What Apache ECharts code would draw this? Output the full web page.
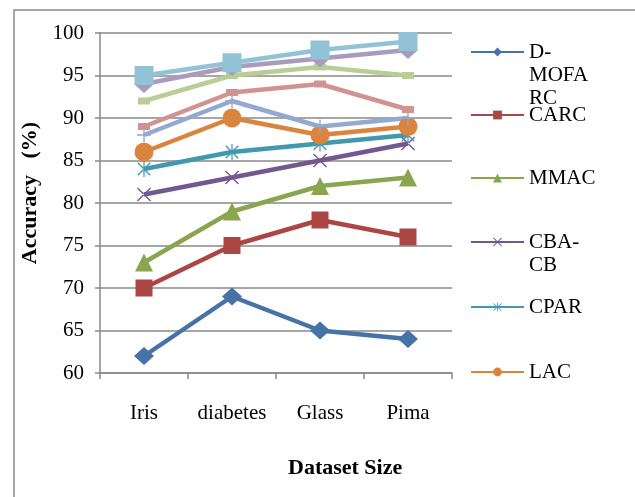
<!DOCTYPE html>
<html>
<head>
<meta charset="utf-8">
<script src="https://cdn.jsdelivr.net/npm/echarts@6/dist/echarts.min.js"></script>
<style>html,body{margin:0;padding:0;background:#fff;}#c{width:635px;height:497px;}</style>
</head>
<body>
<div id="c"></div>
<script>
var categories = ['Iris', 'diabetes', 'Glass', 'Pima'];
var yTicks = [60, 65, 70, 75, 80, 85, 90, 95, 100];
var dMofarc = [62, 69, 65, 64];
var carc = [70, 75, 78, 76];
var mmac = [73, 79, 82, 83];
var cbaCb = [81, 83, 85, 87];
var cpar = [84, 86, 87, 88];
var lac = [86, 90, 88, 89];
var series7 = [88, 92, 89, 90];
var series8 = [89, 93, 94, 91];
var series9 = [92, 95, 96, 95];
var series10 = [94, 96, 97, 98];
var series11 = [95, 96.5, 98, 99];

var FONT = '"Liberation Serif", "Times New Roman", serif';
var GRID_COLOR = '#898989';

var PLUS = 'path://M9,0H11V9H20V11H11V20H9V11H0V9H9Z';
var XMARK = 'path://M0,1.4L1.4,0L20,18.6L18.6,20ZM20,1.4L18.6,0L0,18.6L1.4,20Z';
var STAR = 'path://M0,1.4L1.4,0L20,18.6L18.6,20ZM20,1.4L18.6,0L0,18.6L1.4,20ZM9.1,-2H10.9V22H9.1Z';

function mk(name, data, color, symbol, size) {
  return {
    name: name, type: 'line', data: data,
    symbol: symbol, symbolSize: size, symbolKeepAspect: true,
    showSymbol: true,
    lineStyle: { width: 4.5, color: color },
    itemStyle: { color: color },
    emphasis: { disabled: true },
    animation: false
  };
}

var seriesList = [
  mk('D-MOFARC', dMofarc, '#4572A7', 'diamond', [20, 18]),
  mk('CARC', carc, '#AA4643', 'rect', 17),
  mk('MMAC', mmac, '#89A54E', 'triangle', 18),
  mk('CBA-CB', cbaCb, '#71588F', XMARK, 14),
  mk('CPAR', cpar, '#4198AF', STAR, 16),
  mk('LAC', lac, '#DB843D', 'circle', 19),
  mk('Series 7', series7, '#93A9CF', PLUS, 14),
  mk('Series 8', series8, '#D19392', 'rect', [12, 7]),
  mk('Series 9', series9, '#B9CD96', 'rect', [12, 7]),
  mk('Series 10', series10, '#A99BBD', 'diamond', [20, 18]),
  mk('Series 11', series11, '#91C3D5', 'rect', 19)
];

var legendItems = [
  { name: 'D-MOFARC', text: '\n\nD-\nMOFA\nRC', center: 52, lines: 5 },
  { name: 'CARC', text: 'CARC', center: 115, lines: 1 },
  { name: 'MMAC', text: 'MMAC', center: 178, lines: 1 },
  { name: 'CBA-CB', text: '\nCBA-\nCB', center: 242, lines: 3 },
  { name: 'CPAR', text: 'CPAR', center: 307, lines: 1 },
  { name: 'LAC', text: 'LAC', center: 372, lines: 1 }
];
var LH = 23;
var legends = legendItems.map(function (it) {
  return {
    orient: 'vertical', left: 470, top: it.center - it.lines * LH / 2,
    padding: 0, itemWidth: 53, itemHeight: 11,
    data: [it.name], selectedMode: false,
    formatter: function () { return it.text; },
    textStyle: { fontFamily: FONT, fontSize: 21, lineHeight: LH, color: '#000' }
  };
});

var chart = echarts.init(document.getElementById('c'), null, { renderer: 'canvas' });
chart.setOption({
  animation: false,
  backgroundColor: '#fff',
  title: {
    text: 'Dataset Size', left: 288, top: 457,
    textStyle: { fontFamily: FONT, fontSize: 22, fontWeight: 'bold', color: '#000' },
    padding: 0
  },
  graphic: [{
    type: 'rect', silent: true, z: -1,
    shape: { x: 14, y: 10, width: 800, height: 600 },
    style: { fill: 'none', stroke: GRID_COLOR, lineWidth: 1.5 }
  }],
  legend: legends,
  grid: { left: 100, top: 33, right: 183, bottom: 124, containLabel: false },
  xAxis: {
    type: 'category', data: categories, boundaryGap: true,
    axisLine: { lineStyle: { color: GRID_COLOR, width: 1.5 } },
    axisTick: { show: true, length: 6, lineStyle: { color: GRID_COLOR, width: 1.5 } },
    axisLabel: { interval: 0, hideOverlap: false, margin: 30, fontFamily: FONT, fontSize: 21, color: '#000' },
    splitLine: { show: false }
  },
  yAxis: {
    type: 'value', min: 60, max: 100, interval: 5,
    name: 'Accuracy   (%)', nameLocation: 'middle', nameGap: 53,
    nameTextStyle: { fontFamily: FONT, fontSize: 22, fontWeight: 'bold', color: '#000', padding: [0, 0, 0, 20] },
    axisLine: { show: true, lineStyle: { color: GRID_COLOR, width: 1.5 } },
    axisTick: { show: true, length: 5, lineStyle: { color: GRID_COLOR, width: 1.5 } },
    axisLabel: {
      margin: 16, fontFamily: FONT, fontSize: 21, color: '#000',
      formatter: function (v) { return yTicks.indexOf(v) >= 0 ? String(v) : ''; }
    },
    splitLine: { show: true, lineStyle: { color: GRID_COLOR, width: 1.5 } }
  },
  series: seriesList
});
</script>
</body>
</html>
